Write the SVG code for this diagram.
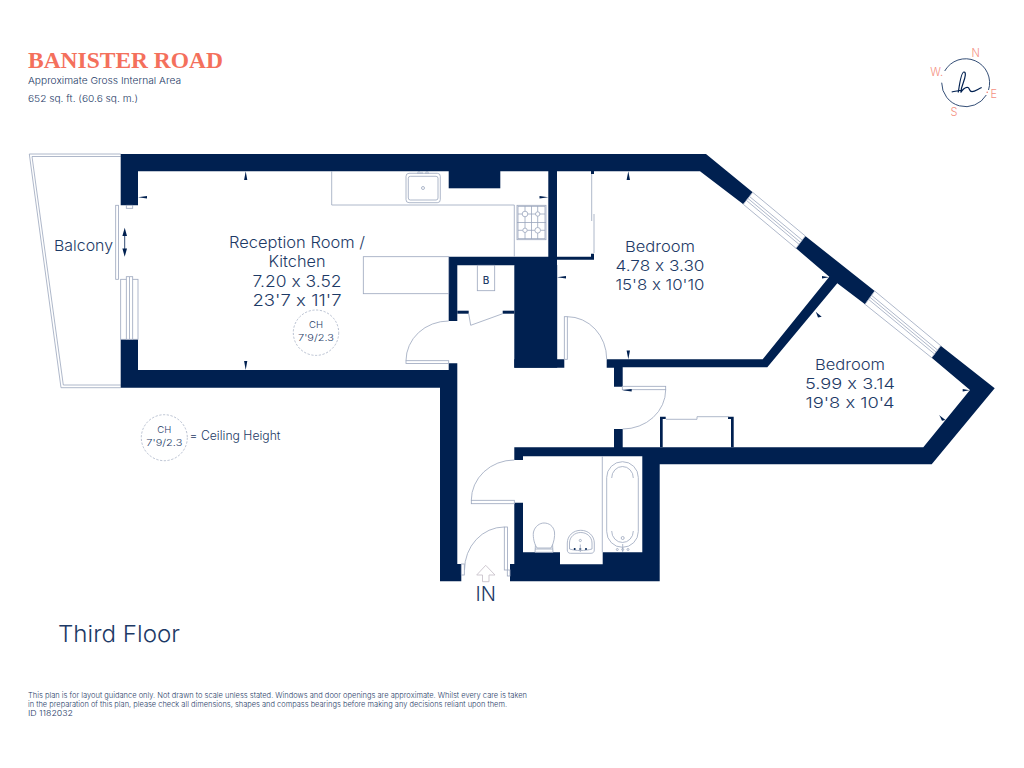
<svg xmlns="http://www.w3.org/2000/svg" width="1024" height="768" viewBox="0 0 1024 768">
<style>
text{font-family:"Inter","Liberation Sans",sans-serif;fill:#1d3a66;font-weight:300;font-feature-settings:"calt" 0;font-variant-ligatures:no-contextual}
.m{text-anchor:middle}
.w{fill:#002050;stroke:none}
.l{fill:#fff;stroke:#9ba6bd;stroke-width:.8}
.n{fill:none;stroke:#9ba6bd;stroke-width:.8}
.d{fill:none;stroke:#9ba6bd;stroke-width:.7;stroke-dasharray:2.2 1.6}
.t{fill:#002050}
.c{fill:#f4907f;font-size:11px}
</style>
<rect width="1024" height="768" fill="#fff"/>
<g id="header">
<text x="28" y="68" textLength="195" lengthAdjust="spacing" style="font-family:'Liberation Serif',serif;font-weight:700;font-size:23.5px;fill:#f4705c">BANISTER ROAD</text>
<text x="28" y="84" font-size="9.500" textLength="153" lengthAdjust="spacingAndGlyphs">Approximate Gross Internal Area</text>
<text x="28" y="102" font-size="9.500" textLength="110" lengthAdjust="spacingAndGlyphs">652 sq. ft. (60.6 sq. m.)</text>
</g>
<g id="compass">
<path d="M944.700 71A24 24 0 0 1 988.500 90M986.300 95A24 24 0 0 1 941.700 82.700" fill="none" stroke="#1d3a66" stroke-width=".9"/>
<path d="M951.700 92C955 91 959 91 962 90M958.300 92.500C959.500 84 961 72 964 72C966.500 72 965 78 963.500 82C962 86 961 90 960.800 92.500C962 90 965.500 86.500 968 87.500C970 88.500 969 91.700 972 91.700C975 91.700 978 89 981.700 87.500" fill="none" stroke="#002050" stroke-width="1.200"/>
<circle cx="987.200" cy="92.300" r=".8" fill="#f27c6c"/>
<text class="c m" x="975.700" y="57.300">N</text><text class="c m" x="936.700" y="76">W.</text><text class="c m" x="993.700" y="98.300">E</text><text class="c m" x="954" y="116">S</text>
</g>
<g id="balcony">
<path class="n" d="M120.700 154H29.300L61 387.700H120.700"/>
<path class="n" d="M120.700 156.500H32L63.300 385H120.700"/>
<text x="54" y="250.700" font-size="15" textLength="59" lengthAdjust="spacingAndGlyphs">Balcony</text>
</g>
<g id="walls">
<path class="w" d="M120.700 154H706L752.700 192.300L743.300 204.300L700 171.300H138V205.300H120.700Z"/>
<path class="w" d="M120.700 339.300H138V370H448.700V363.300H457.300V564H461.300V581.300H440V387.700H120.700Z"/>
<rect class="w" x="448.700" y="171" width="51.600" height="17.300"/>
<path class="w" d="M548.300 171H557V256.700H591V253.700H594V259.700H557V265H514.300V359.300H564.300V367.700H514.300V265.300H457.300V321H448.700V256.700H548.300Z"/>
<rect class="w" x="514.300" y="265" width="42.900" height="102.700"/>
<rect class="w" x="591" y="171" width="3" height="3"/>
<rect class="w" x="457.300" y="310.700" width="11.400" height="3"/>
<rect class="w" x="502.700" y="310.700" width="11.600" height="3"/>
<path class="w" d="M805.300 236L874.700 291L865 304.300L837.300 283.300L767.300 367.300H622.700V386.700H614V367.700H606.700V359.300H762.700L829.300 276.700L796 248.300Z"/>
<path class="w" d="M940.700 345.700L994.700 388.300L931.700 464.300H659.700V581.300H510V564H514.300V502.700H523V552.300H560V564.300H602.700V552.300H642.300V456.300H523V460H514.300V447.300H614V429H622.700V447.300H923.300L970 390L931.700 357.700Z"/>
<path class="w" d="M660 447.300V416.700H665.700V419H662.700V447.300ZM731 447.300V419H728V416.700H733.700V447.300Z"/>
</g>
<g id="windows">
<path class="l" d="M752.700 192.300L805.300 236L796 248.300L743.300 204.300Z"/>
<path class="n" d="M749.500 196.500L802 240M748 198.500L800.500 242.300M746.500 200.500L799 244.300"/>
<path class="l" d="M874.700 291L940.700 345.700L931.700 357.700L865 304.300Z"/>
<path class="n" d="M871.500 295.300L937.500 350M870 297.300L936 352M868.500 299.300L934.500 354"/>
<rect class="l" x="120.700" y="279.300" width="17.300" height="60"/>
<rect class="l" x="126.300" y="276.700" width="6.400" height="62.600"/>
<path class="n" d="M129.500 277V339"/>
<rect class="l" x="115.700" y="205.300" width="2.700" height="74"/>
<rect class="l" x="126.300" y="205.300" width="6.400" height="3"/>
<path fill="#002050" d="M124.700 227.700L127 236H122.400ZM124.700 256.700L127 248.500H122.400Z"/>
<path stroke="#002050" stroke-width=".8" d="M124.700 234V250"/>
</g>
<g id="doors">
<rect class="l" x="406" y="360.700" width="42.700" height="2.800"/><path class="n" d="M406 360.700A42.700 39.700 0 0 1 448.700 321"/>
<rect class="l" x="564.300" y="316.700" width="3" height="42.600"/><path class="n" d="M567.300 316.700A39.400 42.300 0 0 1 606.700 359"/>
<path class="n" d="M468.700 313.700L470.700 325.300L502.700 313.700"/>
<rect class="l" x="622.300" y="386.300" width="43.400" height="3.400"/><path class="n" d="M665.700 389.700A43 39.300 0 0 1 622.700 429"/>
<rect class="l" x="471.300" y="500.300" width="43" height="3.400"/><path class="n" d="M471.300 500.300A43 40.300 0 0 1 514.300 460"/>
<rect class="l" x="504.300" y="527" width="3.200" height="43"/><path class="n" d="M504.300 527A39.800 43 0 0 0 464.500 570"/>
<rect class="l" x="461.300" y="564" width="3" height="11"/><rect class="l" x="507.300" y="570" width="2.700" height="6"/>
<path class="n" d="M591.700 174V221M594 214V253M666 419.300H697V416.700H729"/>
</g>
<g id="fittings">
<path class="n" d="M331.700 171V205H514.300V256.700"/>
<rect class="l" x="406" y="173.300" width="34.300" height="29.400" rx="3"/>
<rect class="l" x="408.300" y="176.300" width="29.700" height="23.700" rx="2"/>
<circle class="n" cx="423" cy="188" r="1.500"/>
<path class="n" d="M418 174V171.500H420V174M426 174V171.500H428V174M422 171.500V174"/>
<rect class="l" x="517" y="205.300" width="29" height="34.400"/>
<rect class="n" x="518" y="206.300" width="27" height="32.400"/>
<path class="n" d="M517 222.500H546M525 206V239M531.500 206V239M537.700 206V239M518 214H545M518 230.300H545"/>
<circle class="l" cx="525" cy="214" r="2.800"/><circle class="l" cx="537.700" cy="214" r="2.200"/><circle class="l" cx="525" cy="230.300" r="2.200"/><circle class="l" cx="537.700" cy="230.300" r="2.800"/>
<rect class="l" x="363.300" y="256.700" width="85.400" height="37"/>
<rect class="l" x="477.300" y="265.300" width="17.400" height="25.400"/>
<text class="m" x="486" y="283.500" font-size="10" style="font-weight:500">B</text>
<path class="n" d="M602.300 456.300V552.300"/>
<rect class="l" x="606.700" y="461.700" width="31.600" height="85.600" rx="15.800"/>
<path class="n" d="M611.700 478A10.800 11.500 0 0 1 633.300 478M611.700 531A10.800 11.500 0 0 0 633.300 531"/>
<circle class="n" cx="622.700" cy="538" r="1.500"/><circle class="n" cx="617.300" cy="549.500" r="1"/><circle class="n" cx="622.700" cy="549.500" r="1"/><circle class="n" cx="628" cy="549.500" r="1"/>
<path class="n" d="M622.700 544V552"/>
<path class="l" d="M535.500 544H552.500L553 552.300H535Z"/>
<path class="n" d="M535 549H553"/>
<path class="l" d="M537 548C533 542 533 534 533.500 532C535 526 540 523 544 523C549 523 553.500 526 554.500 532C555 536 554 543 551 548Z"/>
<path class="l" d="M567.300 550V543C567.300 536 573 530.300 580.800 530.300C588.500 530.300 594.300 536 594.300 543V550C594.300 552 593 553.300 591 553.300H570.500C568.500 553.300 567.300 552 567.300 550Z"/>
<path class="n" d="M569.500 549V543C569.500 537 574.500 532.500 580.800 532.500C587 532.500 592 537 592 543V549C585 551 576 551 569.500 549Z"/>
<circle class="n" cx="580.300" cy="540.500" r="1.100"/><circle class="t" cx="574.700" cy="549" r="1"/><circle class="t" cx="580.300" cy="549" r="1"/><circle class="t" cx="586" cy="549" r="1"/>
<path class="n" d="M580.300 544.500V552"/>
</g>
<g id="ticks" class="t">
<path d="M245.700 171.300L247.300 180H244.100ZM245.700 370L247.300 361H244.100Z"/>
<path d="M138 197.300L147 196V198.600H147Z"/>
<path d="M548.300 197.300L539.500 196V198.600Z"/>
<path d="M628.300 171.300L630 180H626.600ZM628.300 359.300L630 350.500H626.600Z"/>
<path d="M557 277.300L566 276V278.600ZM829 277.300L822 276V278.600Z"/>
<path d="M815.700 311.700L821.700 316.700L818 317.500L816.500 313.500Z"/>
<path d="M969.500 390.300L962.700 389V391.600Z"/>
<path d="M939 415L945.500 420L942 420.800L940 416.500Z"/>
<path d="M622.300 390.300L631.700 389V391.600Z"/>
</g>
<g id="labels">
<text class="m" x="297" y="247.700" font-size="15.500" textLength="136" lengthAdjust="spacingAndGlyphs">Reception Room /</text>
<text class="m" x="297" y="267" font-size="15.500" textLength="57" lengthAdjust="spacingAndGlyphs">Kitchen</text>
<text class="m" x="297" y="286.700" font-size="15.500" textLength="89" lengthAdjust="spacingAndGlyphs">7.20 x 3.52</text>
<text class="m" x="297" y="305.700" font-size="15.500" textLength="89" lengthAdjust="spacingAndGlyphs">23'7 x 11'7</text>
<circle class="d" cx="316" cy="332.700" r="22.700"/>
<text class="m" x="316" y="328" font-size="9.500">CH</text>
<text class="m" x="316" y="341" font-size="9.500" textLength="36" lengthAdjust="spacingAndGlyphs">7'9/2.3</text>
<text class="m" x="660" y="251.700" font-size="15" textLength="70" lengthAdjust="spacingAndGlyphs">Bedroom</text>
<text class="m" x="660" y="271" font-size="15" textLength="89" lengthAdjust="spacingAndGlyphs">4.78 x 3.30</text>
<text class="m" x="660" y="290" font-size="15" textLength="89" lengthAdjust="spacingAndGlyphs">15'8 x 10'10</text>
<text class="m" x="850" y="370" font-size="15" textLength="70" lengthAdjust="spacingAndGlyphs">Bedroom</text>
<text class="m" x="850" y="389" font-size="15" textLength="90" lengthAdjust="spacingAndGlyphs">5.99 x 3.14</text>
<text class="m" x="850" y="407.700" font-size="15" textLength="89" lengthAdjust="spacingAndGlyphs">19'8 x 10'4</text>
<text class="m" x="485.700" y="600.700" font-size="20">IN</text>
<path fill="none" stroke="#c9c3cc" stroke-width=".9" d="M485.700 565.300L495 575H489V581.700H482.500V575H476.700Z"/>
<circle class="d" cx="164.300" cy="437.700" r="23"/>
<text class="m" x="164.300" y="433.300" font-size="9.500">CH</text>
<text class="m" x="164.300" y="446" font-size="9.500" textLength="36" lengthAdjust="spacingAndGlyphs">7'9/2.3</text>
<text x="189.500" y="440" font-size="12.500" textLength="91" lengthAdjust="spacingAndGlyphs">= Ceiling Height</text>
<text x="58" y="642" font-size="23" textLength="122" lengthAdjust="spacingAndGlyphs">Third Floor</text>
</g>
<g id="footer">
<text x="28" y="697.700" font-size="7.500" textLength="499" lengthAdjust="spacingAndGlyphs">This plan is for layout guidance only.  Not drawn to scale unless stated. Windows and door openings are approximate. Whilst every care is taken</text>
<text x="28" y="707" font-size="7.500" textLength="479" lengthAdjust="spacingAndGlyphs">in the preparation of this plan, please check all dimensions, shapes and compass bearings before making any decisions reliant upon them.</text>
<text x="28" y="716.300" font-size="7.500" textLength="45" lengthAdjust="spacingAndGlyphs">ID 1182032</text>
</g>
</svg>
